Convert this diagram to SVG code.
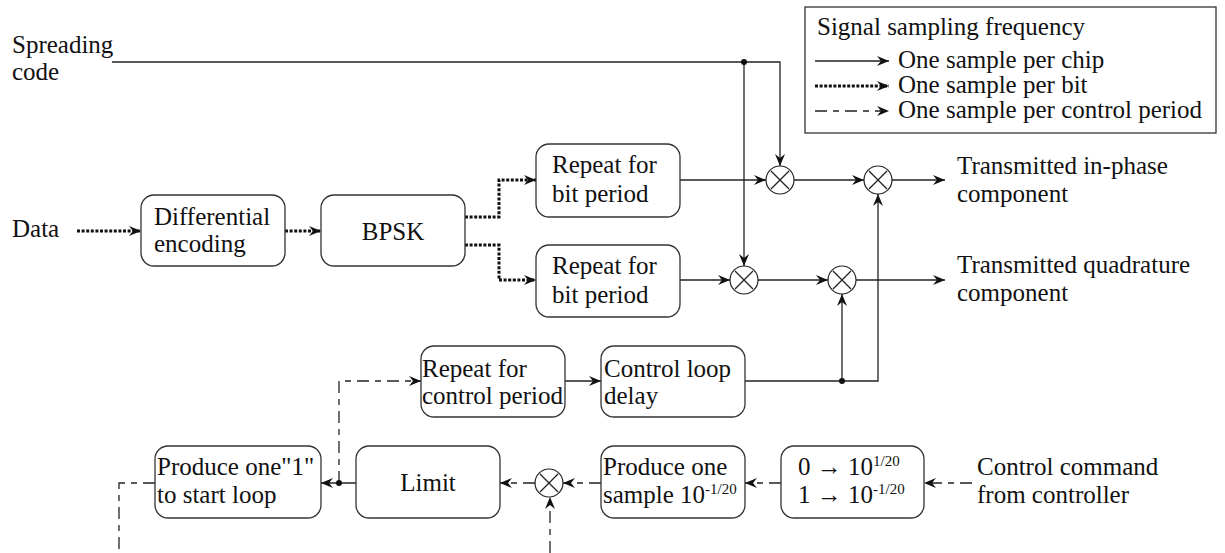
<svg xmlns="http://www.w3.org/2000/svg" width="1225" height="553" viewBox="0 0 1225 553" font-family="'Liberation Serif', 'Times New Roman', serif">
<style>
text{font-family:'Liberation Serif','Times New Roman',Times,'Nimbus Roman','DejaVu Serif',serif;font-size:25px;fill:#111}
.box{fill:#fff;stroke:#333;stroke-width:1.3}
.s{fill:none;stroke:#222;stroke-width:1.3}
.d{fill:none;stroke:#111;stroke-width:3;stroke-dasharray:3 1.6}
.k{fill:none;stroke:#222;stroke-width:1.3;stroke-dasharray:12 6 6 6}
.m{fill:#fff;stroke:#222;stroke-width:1.2}
.x{stroke:#222;stroke-width:1.3}
.dot{fill:#111}
.mid{text-anchor:middle}
.sup{font-size:15px}
</style>
<defs>
<marker id="a" viewBox="0 0 12 10" refX="12" refY="5" markerWidth="12" markerHeight="10" markerUnits="userSpaceOnUse" orient="auto">
<path d="M0,0 L12,5 L0,10 L4,5 Z" fill="#111"/>
</marker>
<g id="mul"><circle r="14" class="m"/><path d="M-9,-9 L9,9 M-9,9 L9,-9" class="x"/></g>
</defs>

<g id="legend">
<rect x="805" y="7" width="411" height="126" fill="#fff" stroke="#333" stroke-width="1.3"/>
<text x="817" y="35">Signal sampling frequency</text>
<path d="M815,61 L889,61" class="s" marker-end="url(#a)"/>
<text x="898" y="68">One sample per chip</text>
<path d="M815,86 L889,86" class="d" marker-end="url(#a)"/>
<text x="898" y="93">One sample per bit</text>
<path d="M815,111 L889,111" class="k" marker-end="url(#a)"/>
<text x="898" y="118">One sample per control period</text>
</g>

<g id="connectors">
<path d="M112,62 L780,62 L780,166" class="s" marker-end="url(#a)"/>
<path d="M744,62 L744,266" class="s" marker-end="url(#a)"/>
<path d="M680,180 L766,180" class="s" marker-end="url(#a)"/>
<path d="M794,180 L864,180" class="s" marker-end="url(#a)"/>
<path d="M892,180 L945,180" class="s" marker-end="url(#a)"/>
<path d="M680,280 L730,280" class="s" marker-end="url(#a)"/>
<path d="M758,280 L828,280" class="s" marker-end="url(#a)"/>
<path d="M856,280 L945,280" class="s" marker-end="url(#a)"/>
<path d="M745,381 L878,381 L878,194" class="s" marker-end="url(#a)"/>
<path d="M842,381 L842,294" class="s" marker-end="url(#a)"/>
<path d="M565,381 L601,381" class="s" marker-end="url(#a)"/>
<path d="M356,483 L321,483" class="s" marker-end="url(#a)"/>

<path d="M77,231 L141,231" class="d" marker-end="url(#a)"/>
<path d="M285,231 L321,231" class="d" marker-end="url(#a)"/>
<path d="M465,217 L499,217 L499,180 L536,180" class="d" marker-end="url(#a)"/>
<path d="M465,245 L499,245 L499,280 L536,280" class="d" marker-end="url(#a)"/>

<path d="M339,483 L339,381 L421,381" class="k" marker-end="url(#a)"/>
<path d="M155,483 L119,483 L119,553" class="k"/>
<path d="M535,483 L500,483" class="k" marker-end="url(#a)"/>
<path d="M601,483 L563,483" class="k" marker-end="url(#a)"/>
<path d="M781,483 L745,483" class="k" marker-end="url(#a)"/>
<path d="M972,483 L924,483" class="k" marker-end="url(#a)"/>
<path d="M550,553 L550,497" class="k" marker-end="url(#a)"/>

<circle cx="744" cy="62" r="3" class="dot"/>
<circle cx="842" cy="381" r="3" class="dot"/>
<circle cx="339" cy="483" r="3" class="dot"/>
</g>

<g id="labels">
<text x="12" y="53">Spreading</text>
<text x="12" y="80">code</text>
<text x="12" y="237">Data</text>
<text x="957" y="174">Transmitted in-phase</text>
<text x="957" y="202">component</text>
<text x="957" y="273">Transmitted quadrature</text>
<text x="957" y="301">component</text>
<text x="977" y="475">Control command</text>
<text x="977" y="503">from controller</text>
</g>

<g id="diff"><rect x="141" y="195" width="144" height="71" rx="13" class="box"/>
<text x="154" y="225">Differential</text><text x="154" y="252">encoding</text></g>
<g id="bpsk"><rect x="321" y="195" width="144" height="71" rx="13" class="box"/>
<text x="393" y="240" class="mid">BPSK</text></g>
<g id="rep1"><rect x="536" y="144" width="144" height="73" rx="13" class="box"/>
<text x="552" y="173">Repeat for</text><text x="552" y="202">bit period</text></g>
<g id="rep2"><rect x="536" y="245" width="144" height="72" rx="13" class="box"/>
<text x="552" y="274">Repeat for</text><text x="552" y="303">bit period</text></g>
<g id="repc"><rect x="421" y="346" width="144" height="71" rx="13" class="box"/>
<text x="422" y="377">Repeat for</text><text x="422" y="404">control period</text></g>
<g id="delay"><rect x="601" y="346" width="144" height="71" rx="13" class="box"/>
<text x="604" y="377">Control loop</text><text x="604" y="404">delay</text></g>
<g id="start"><rect x="155" y="446" width="166" height="72" rx="13" class="box"/>
<text x="157" y="475">Produce one"1"</text><text x="157" y="503">to start loop</text></g>
<g id="limit"><rect x="356" y="446" width="144" height="72" rx="13" class="box"/>
<text x="428" y="491" class="mid">Limit</text></g>
<g id="sample"><rect x="601" y="446" width="144" height="72" rx="13" class="box"/>
<text x="603" y="475">Produce one</text><text x="603" y="503">sample 10<tspan dy="-9" class="sup">-1/20</tspan></text></g>
<g id="map"><rect x="781" y="446" width="143" height="72" rx="13" class="box"/>
<text x="798" y="475">0 → 10<tspan dy="-9" class="sup">1/20</tspan></text>
<text x="798" y="503">1 → 10<tspan dy="-9" class="sup">-1/20</tspan></text></g>

<g id="mult1"><use href="#mul" x="780" y="180"/></g>
<g id="mult2"><use href="#mul" x="878" y="180"/></g>
<g id="mult3"><use href="#mul" x="744" y="280"/></g>
<g id="mult4"><use href="#mul" x="842" y="280"/></g>
<g id="mult5"><use href="#mul" x="549" y="483"/></g>
</svg>
